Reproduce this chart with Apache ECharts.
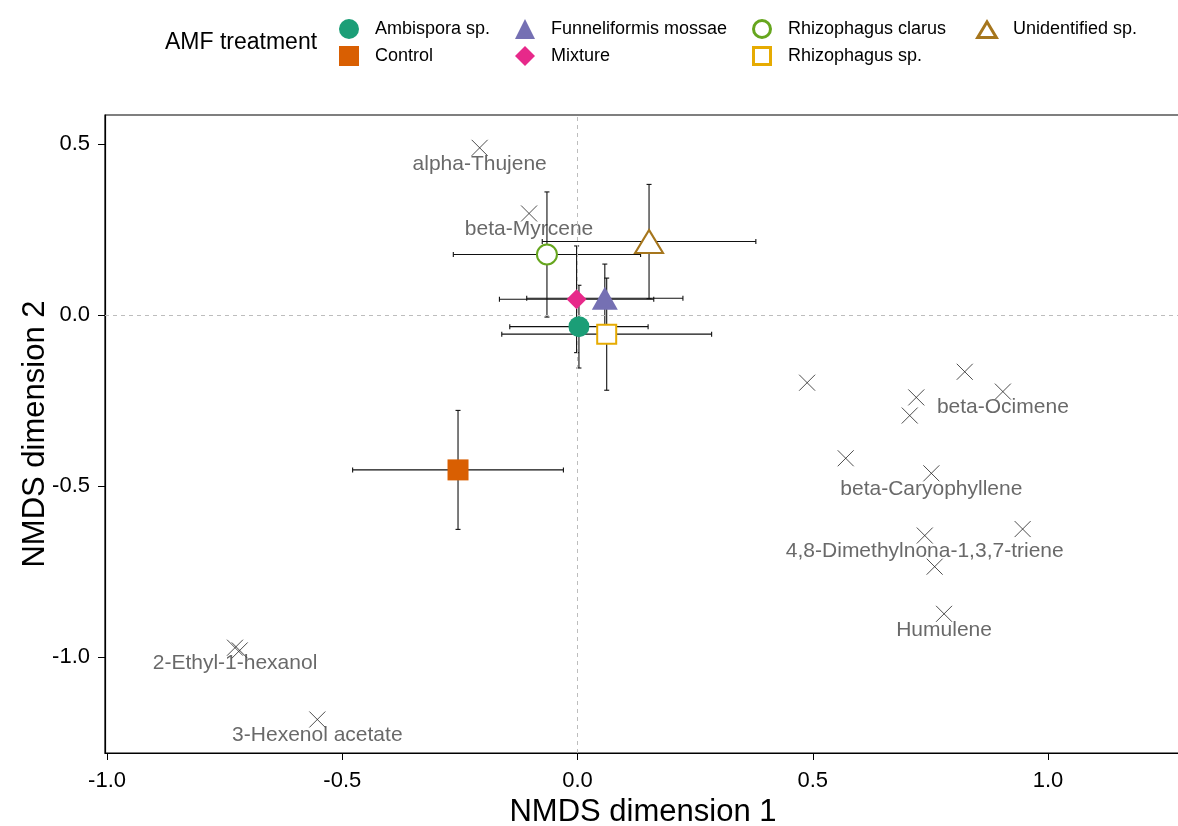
<!DOCTYPE html>
<html lang="en">
<head>
<meta charset="utf-8">
<title>NMDS - AMF treatment</title>
<style>
  html, body { margin: 0; padding: 0; background: #fff; }
  #chart { width: 1178px; height: 826px; }
</style>
</head>
<body>
<div id="chart"></div>
<script src="https://cdn.jsdelivr.net/npm/echarts@6/dist/echarts.min.js"></script>
<script>
// treatment centroids (mean scores) and their errors
var treatments = ['Ambispora sp.', 'Control', 'Funneliformis mossae', 'Mixture', 'Rhizophagus clarus', 'Rhizophagus sp.', 'Unidentified sp.'];
var treatX = [0.003, -0.254, 0.058, -0.002, -0.065, 0.062, 0.152];
var treatY = [-0.034, -0.453, 0.049, 0.046, 0.177, -0.056, 0.215];
var errX = [0.147, 0.224, 0.166, 0.164, 0.199, 0.223, 0.227];
var errY = [0.121, 0.174, 0.100, 0.156, 0.183, 0.164, 0.167];

// volatile compound scores
var compX = [-0.208, -0.103, 0.488, 0.823, 0.720, 0.904, 0.706, 0.570, 0.752, 0.738, 0.946, 0.759, 0.779, -0.728, -0.718, -0.553];
var compY = [0.489, 0.297, -0.198, -0.166, -0.241, -0.224, -0.294, -0.419, -0.463, -0.645, -0.626, -0.736, -0.874, -0.973, -0.981, -1.183];
var compLabels = ['alpha-Thujene', 'beta-Myrcene', '', '', '', 'beta-Ocimene', '', '', 'beta-Caryophyllene',
  '4,8-Dimethylnona-1,3,7-triene', '', '', 'Humulene', '2-Ethyl-1-hexanol', '', '3-Hexenol acetate'];

var axisTicks = [-1, -0.5, 0, 0.5, 1];

// look of each treatment (Dark2)
var colors = ['#1B9E77', '#D95F02', '#7570B3', '#E7298A', '#66A61E', '#E6AB02', '#A6761D'];
var symbols = ['circle', 'rect', 'triangle', 'diamond', 'emptyCircle', 'emptyRect', 'emptyTriangle'];
var sizes = [21, 21, [26, 23], [20, 20], 20, 19, [28, 23]];

// hollow legend icons (outer shape minus inner shape, 3px ring)
var hollowIcons = {
  emptyCircle: 'path://M0,10A10,10 0 1,1 20,10A10,10 0 1,1 0,10ZM3,10A7,7 0 1,0 17,10A7,7 0 1,0 3,10Z',
  emptyRect: 'path://M0,0L20,0L20,20L0,20ZM3,3L3,17L17,17L17,3Z',
  emptyTriangle: 'path://M0,20L12,0L24,20ZM5.3,17L18.7,17L12,5.8Z'
};

var FONT = 'Liberation Sans';

function isEmpty(sym) { return sym.indexOf('empty') === 0; }

function renderErrorBars(params, api) {
  var x = api.value(0), y = api.value(1), ex = api.value(2), ey = api.value(3);
  var l = api.coord([x - ex, y]), r = api.coord([x + ex, y]);
  var t = api.coord([x, y + ey]), b = api.coord([x, y - ey]);
  var cap = 2.5;
  var st = { stroke: '#111', lineWidth: 1.1 };
  function seg(x1, y1, x2, y2) {
    return { type: 'line', shape: { x1: x1, y1: y1, x2: x2, y2: y2 }, style: st };
  }
  return {
    type: 'group',
    children: [
      seg(l[0], l[1], r[0], r[1]),
      seg(l[0], l[1] - cap, l[0], l[1] + cap),
      seg(r[0], r[1] - cap, r[0], r[1] + cap),
      seg(t[0], t[1], b[0], b[1]),
      seg(t[0] - cap, t[1], t[0] + cap, t[1]),
      seg(b[0] - cap, b[1], b[0] + cap, b[1])
    ]
  };
}

var series = [];

series.push({
  type: 'custom',
  name: 'errors',
  renderItem: renderErrorBars,
  data: treatments.map(function (n, i) { return [treatX[i], treatY[i], errX[i], errY[i]]; }),
  encode: { x: 0, y: 1 },
  z: 3,
  silent: true
});

series.push({
  type: 'scatter',
  name: 'compounds',
  data: compX.map(function (v, i) { return { name: compLabels[i], value: [v, compY[i]] }; }),
  symbol: 'path://M0 0L10 10M10 0L0 10',
  symbolSize: 16,
  itemStyle: { color: 'rgba(0,0,0,0)', borderColor: '#222', borderWidth: 1 },
  label: {
    show: true,
    position: 'inside',
    offset: [0, 16],
    formatter: '{b}',
    fontFamily: FONT,
    fontSize: 21,
    color: '#444'
  },
  z: 2,
  silent: true,
  markLine: {
    silent: true,
    symbol: 'none',
    label: { show: false },
    lineStyle: { type: [4, 4], color: '#BDBDBD', width: 1 },
    data: [{ xAxis: 0 }, { yAxis: 0 }]
  }
});

treatments.forEach(function (n, i) {
  series.push({
    type: 'scatter',
    name: n,
    data: [[treatX[i], treatY[i]]],
    symbol: symbols[i],
    symbolSize: sizes[i],
    itemStyle: {
      color: colors[i],
      borderColor: colors[i],
      borderWidth: isEmpty(symbols[i]) ? 3 : 0,
      opacity: 1
    },
    z: 5,
    silent: true
  });
});

// legend laid out in columns of two, like the ggplot guide
var legendCols = [[0, 1], [2, 3], [4, 5], [6]];
var legendIconX = [349, 525, 762, 987];
var legendIconW = [20, 20, 20, 24];

var legends = legendCols.map(function (idx, c) {
  var w = legendIconW[c];
  return {
    data: idx.map(function (j) {
      var item = { name: treatments[j] };
      if (isEmpty(symbols[j])) {
        item.icon = hollowIcons[symbols[j]];
        item.itemStyle = { color: colors[j], borderWidth: 0 };
      }
      return item;
    }),
    orient: 'vertical',
    left: legendIconX[c] - w / 2,
    top: 19,
    padding: 0,
    itemWidth: w,
    itemHeight: 20,
    itemGap: 7,
    selectedMode: false,
    textStyle: { fontFamily: FONT, fontSize: 18, color: '#000', padding: [0, 0, 0, 21 - w / 2] }
  };
});

var option = {
  animation: false,
  backgroundColor: '#fff',
  textStyle: { fontFamily: FONT },
  grid: {
    left: 105, top: 115, width: 1076, height: 638,
    outerBoundsMode: 'none',
    containLabel: false,
    show: true, borderColor: '#000', borderWidth: 1.2, backgroundColor: 'transparent'
  },
  legend: legends,
  graphic: [{
    type: 'text',
    left: 165,
    top: 31,
    style: { text: 'AMF treatment', font: '23px "Liberation Sans"', fill: '#000' }
  }],
  xAxis: {
    type: 'value',
    min: -1.0043,
    max: 1.2826,
    name: 'NMDS dimension 1',
    nameLocation: 'middle',
    nameGap: 38,
    nameTextStyle: { fontFamily: FONT, fontSize: 31, color: '#000' },
    axisLine: { show: true, onZero: false, lineStyle: { color: '#000', width: 1.2 } },
    axisTick: { show: true, length: 7, lineStyle: { color: '#000' }, customValues: axisTicks },
    axisLabel: {
      customValues: axisTicks, margin: 17, fontFamily: FONT, fontSize: 22, color: '#000',
      formatter: function (v) { return v.toFixed(1); }
    },
    splitLine: { show: false }
  },
  yAxis: {
    type: 'value',
    min: -1.281,
    max: 0.585,
    name: 'NMDS dimension 2',
    nameLocation: 'middle',
    nameMoveOverlap: false,
    nameGap: 54,
    nameTextStyle: { fontFamily: FONT, fontSize: 31, color: '#000' },
    axisLine: { show: true, onZero: false, lineStyle: { color: '#000', width: 1.2 } },
    axisTick: { show: true, length: 7, lineStyle: { color: '#000' }, customValues: axisTicks.slice(0, 4) },
    axisLabel: {
      customValues: axisTicks.slice(0, 4), margin: 15, fontFamily: FONT, fontSize: 22, color: '#000',
      formatter: function (v) { return v.toFixed(1); }
    },
    splitLine: { show: false }
  },
  series: series
};

var chart = echarts.init(document.getElementById('chart'));
chart.setOption(option);
</script>
</body>
</html>
